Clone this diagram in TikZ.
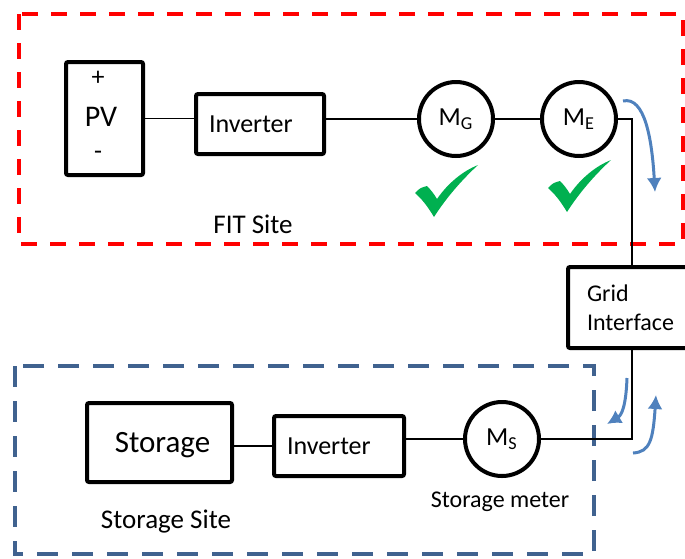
\documentclass[tikz,border=0pt]{standalone}
\usepackage{fontspec}
\setmainfont{Carlito}
\usetikzlibrary{arrows.meta}

\definecolor{sitered}{RGB}{255,0,0}
\definecolor{siteblue}{RGB}{64,98,143}
\definecolor{flowblue}{RGB}{79,129,189}
\definecolor{tickgreen}{RGB}{0,176,80}

\tikzset{
  frame/.style={draw, line width=2pt, rectangle, rounded corners=1pt, inner sep=0pt},
  blk/.style={frame, text depth=0pt},
  txtblk/.style={blk, align=left, inner xsep=6.5pt, text width=51pt, minimum height=30pt, font=\fontsize{13}{15}\selectfont},
  meter/.style={draw, circle, line width=2pt, minimum size=37pt, inner sep=0pt, font=\fontsize{13}{15}\selectfont},
  lbl/.style={inner sep=0pt, text depth=0pt},
  wire/.style={line width=0.7pt},
  flow/.style={flowblue, line width=1.5pt, -{Latex[length=7pt,width=7.5pt]}},
  pics/tick/.style={code={
    \fill[tickgreen] (0,28) .. controls (5,23) .. (12,21) .. controls (16,25) and (19,29) .. (22,34)
      .. controls (33,18) and (48,6) .. (63,0) .. controls (50,12) and (33,30) .. (19,52)
      .. controls (13,42) and (7,34) .. cycle;
  }}
}

\begin{document}
\begin{tikzpicture}[x=0.5pt, y=-0.5pt]
        \useasboundingbox (0,0) rectangle (685,558);

        % site frames
        \draw[sitered, line width=2pt, dash pattern=on 8pt off 6.5pt] (19,14) rectangle (683,244);
        \draw[siteblue, line width=2pt, dash pattern=on 10.5pt off 7pt] (15,366) rectangle (594,554);

        % FIT site
        \node [blk, minimum width=38.5pt, minimum height=56.5pt] (pv) at (104.5,118.5) {};
        \node [lbl, font=\fontsize{15}{18}\selectfont] (pvname) at (101,117) {PV};
        \node [lbl, font=\fontsize{13}{15}\selectfont] (pvplus) at (98,78) {+};
        \node [lbl, font=\fontsize{13}{15}\selectfont] (pvminus) at (98,155) {-};
        \node [txtblk] (inv1) at (260,124) {Inverter};
        \node [meter] (mg) at (456,119) {M\textsubscript{G}};
        \node [meter] (me) at (579,119) {M\textsubscript{E}};
        \node [lbl, font=\fontsize{13.5}{16}\selectfont] (fit) at (253,224) {FIT Site};
        \pic at (415,165) {tick};
        \pic at (548,160) {tick};

        % grid
        \node [frame, align=left, inner xsep=9.5pt, text width=45pt, minimum height=40.5pt,
               font=\fontsize{12}{14.5}\selectfont] (grid) at (632,307.5) {Grid\\Interface};

        % storage site
        \node [blk, minimum width=72.5pt, minimum height=39.5pt, font=\fontsize{15.5}{18}\selectfont] (store) at (159.5,442.5) {\hspace{3pt}Storage};
        \node [txtblk, text width=52pt] (inv2) at (339,446) {Inverter};
        \node [meter] (ms) at (502,439) {M\textsubscript{S}};
        \node [lbl, font=\fontsize{12}{14}\selectfont] (msname) at (500,500) {Storage meter};
        \node [lbl, font=\fontsize{13.5}{16}\selectfont] (stsite) at (166,519) {Storage Site};

        % wiring
        \draw[wire] (pv.east) -- (pv.east -| inv1.west);
        \draw[wire] (inv1.east |- mg.west) -- (mg.west);
        \draw[wire] (mg.east) -- (me.west);
        \draw[wire] (me.east) -| (grid.north);
        \draw[wire] (grid.south) |- (ms.east);
        \draw[wire] (ms.west) -- (ms.west -| inv2.east);
        \draw[wire] (inv2.west) -- (inv2.west -| store.east);

        % power flow
        \draw[flow] (623,101) .. controls (645,96) and (652,140) .. (655,192);
        \draw[flow] (627,378) .. controls (626,405) and (622,415) .. (607,424);
        \draw[flow] (633,453) .. controls (650,452) and (653,440) .. (656,395);
\end{tikzpicture}
\end{document}
